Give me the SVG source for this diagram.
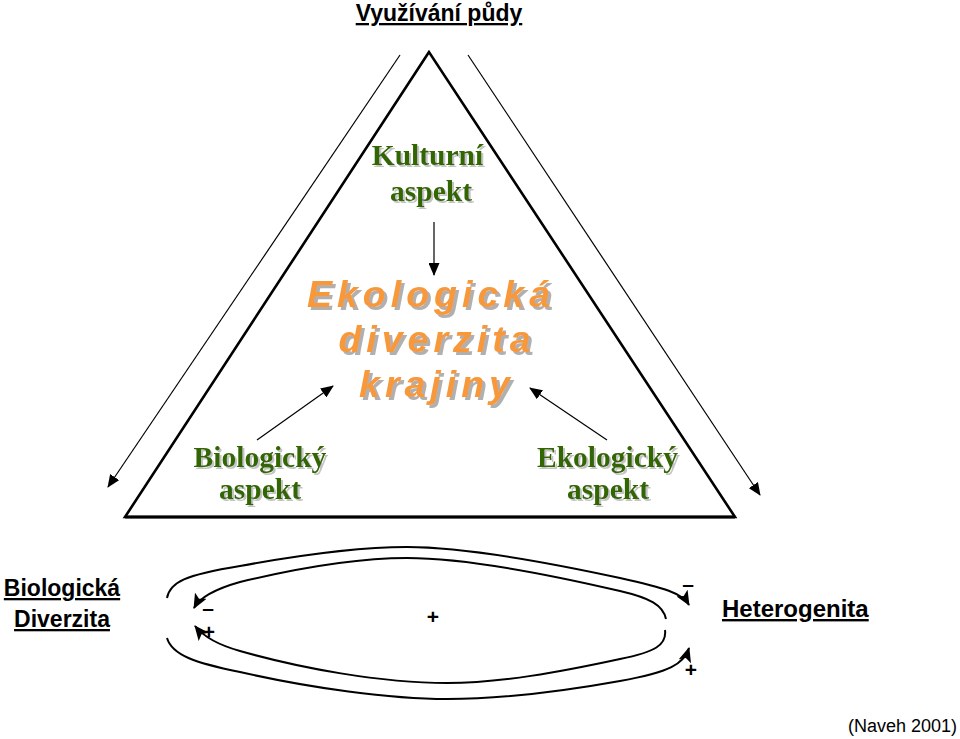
<svg xmlns="http://www.w3.org/2000/svg" width="960" height="739" viewBox="0 0 960 739">
<defs>
<marker id="ah" markerUnits="userSpaceOnUse" markerWidth="15" markerHeight="13" viewBox="0 0 15 13" refX="14" refY="6.5" orient="auto">
<path d="M0,0 L15,6.5 L0,13 L3.5,6.5 Z" fill="#000"/>
</marker>
<marker id="ahs" markerUnits="userSpaceOnUse" markerWidth="13" markerHeight="11" viewBox="0 0 13 11" refX="12" refY="5.5" orient="auto">
<path d="M0,0 L13,5.5 L0,11 Z" fill="#000"/>
</marker>
<filter id="shO" x="-10%" y="-20%" width="120%" height="150%">
<feFlood flood-color="#b0b0b0"/>
<feComposite in2="SourceAlpha" operator="in"/>
<feOffset dx="2.5" dy="2.5" result="s"/>
<feMerge><feMergeNode in="s"/><feMergeNode in="SourceGraphic"/></feMerge>
</filter>
<filter id="shG" x="-10%" y="-20%" width="120%" height="150%">
<feFlood flood-color="#c4c4c4"/>
<feComposite in2="SourceAlpha" operator="in"/>
<feOffset dx="1.5" dy="1.5" result="s"/>
<feMerge><feMergeNode in="s"/><feMergeNode in="SourceGraphic"/></feMerge>
</filter>
</defs>
<style>
.tri{fill:none;stroke:#000;stroke-width:2.6;stroke-linejoin:miter}
.thin{fill:none;stroke:#000;stroke-width:1.2;marker-end:url(#ahs)}
.loop{fill:none;stroke:#000;stroke-width:2;marker-end:url(#ah)}
.green{font-family:"Liberation Serif","Times New Roman",serif;font-weight:bold;font-size:29.5px;fill:#336600;text-anchor:middle;filter:url(#shG)}
.orange{font-family:"Liberation Sans",Arial,sans-serif;font-weight:bold;font-style:italic;font-size:37.5px;letter-spacing:5px;fill:#F7983A;text-anchor:middle;filter:url(#shO)}
.lab{font-family:"Liberation Sans",Arial,sans-serif;font-weight:bold;font-size:23px;fill:#000;text-decoration:underline}
.sign{font-family:"Liberation Sans",Arial,sans-serif;font-weight:bold;font-size:21px;fill:#000;text-anchor:middle}
</style>
<rect width="960" height="739" fill="#fff"/>

<g id="title">
<text class="lab" x="439" y="21" text-anchor="middle">Využívání půdy</text>
</g>

<g id="triangle">
<polygon class="tri" points="429,52 125,517 735,517"/>
<line x1="125" y1="517" x2="735" y2="517" stroke="#000" stroke-width="3.2"/>
</g>

<g id="kulturni">
<text class="green" x="427.5" y="165">Kulturní</text>
<text class="green" x="431" y="201">aspekt</text>
</g>

<g id="ekologicka-diverzita">
<text class="orange" x="431" y="307">Ekologická</text>
<text class="orange" x="437" y="352">diverzita</text>
<text class="orange" x="437" y="397">krajiny</text>
</g>

<g id="biologicky">
<text class="green" x="260" y="467">Biologický</text>
<text class="green" x="260" y="499">aspekt</text>
</g>

<g id="ekologicky">
<text class="green" x="607.5" y="467">Ekologický</text>
<text class="green" x="608" y="499">aspekt</text>
</g>

<g id="biologicka-diverzita">
<text class="lab" x="62" y="596" text-anchor="middle">Biologická</text>
<text class="lab" x="62" y="627" text-anchor="middle">Diverzita</text>
</g>

<g id="heterogenita">
<text class="lab" x="722" y="617" style="font-size:24px">Heterogenita</text>
</g>

<g id="citation">
<text x="848" y="732" font-family="'Liberation Sans',Arial,sans-serif" font-size="18" fill="#000">(Naveh 2001)</text>
</g>

<g id="connectors">
<line class="thin" x1="400" y1="55" x2="108" y2="487"/>
<line class="thin" x1="468" y1="55" x2="760" y2="495"/>
<line class="thin" x1="434" y1="222" x2="434" y2="275"/>
<line class="thin" x1="257" y1="440" x2="333" y2="386"/>
<line class="thin" x1="607" y1="440" x2="530" y2="388"/>

<path class="loop" d="M167,598 C170,582 185,575 240,566 C300,555 360,547 407,547 C470,547 560,565 620,578 C665,588 682,593 689,605"/>
<path class="loop" d="M666,619 C663,605 650,598 620,591 C560,577 470,558 407,558 C350,558 290,570 240,582 C215,589 200,597 194,608"/>
<path class="loop" d="M665,630 C667,645 655,652 620,659 C560,672 500,683 447,683 C380,683 300,668 240,651 C215,644 203,636 195,626"/>
<path class="loop" d="M167,638 C172,655 195,663 240,672 C310,688 390,699 447,699 C510,699 570,690 620,681 C670,672 684,664 689,648"/>
</g>

<g id="signs">
<text class="sign" x="208" y="615">–</text>
<text class="sign" x="209" y="639">+</text>
<text class="sign" x="688" y="591">–</text>
<text class="sign" x="691" y="677">+</text>
<text class="sign" x="433" y="624">+</text>
</g>
</svg>
